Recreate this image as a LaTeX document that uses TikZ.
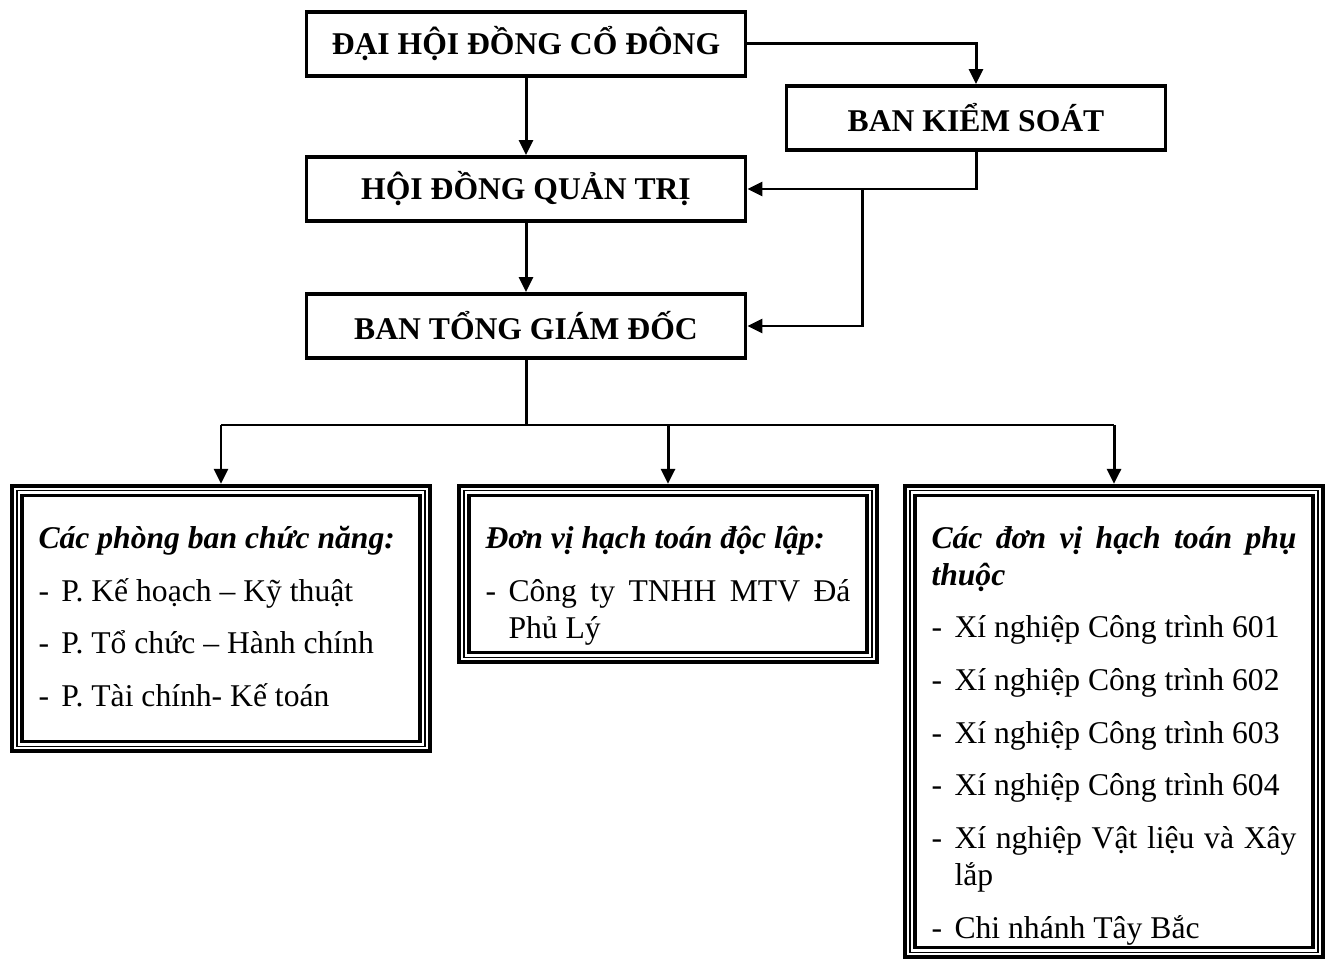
\documentclass[tikz,border=0pt]{standalone}
\usepackage{fontspec}
\setmainfont{Liberation Serif}
\usetikzlibrary{arrows.meta}

\newcommand{\muc}[1]{\par\vspace{9pt}\hangindent=0.46cm\hangafter=1\noindent\makebox[0.46cm][l]{-}#1\par}
\newcommand{\tieude}[1]{\noindent\textbf{\textit{#1}}\par}
\newcommand{\khung}[2]{\begin{minipage}[t][#1][t]{7.3cm}\fontsize{18}{21}\selectfont\vspace*{2pt}#2\end{minipage}}

\tikzset{
  capbox/.style={draw,line width=2.2pt,minimum height=1.28cm,font=\fontsize{18}{21}\selectfont\bfseries},
  donvibox/.style={draw,line width=0.8pt,preaction={draw,line width=7.6pt},preaction={draw,white,line width=3.6pt},
    anchor=north,inner xsep=0.43cm,inner ysep=0.64cm},
  muiten/.style={line width=1.7pt,-{Triangle[length=0.3cm,width=0.28cm]}},
  duong/.style={line width=1.7pt}
}

\begin{document}
\begin{tikzpicture}
\useasboundingbox (0,0) rectangle (26.62,19.16);

%Cap lanh dao
\node (dhdcd) at (10.52,18.28) [capbox,minimum width=8.78cm] {ĐẠI HỘI ĐỒNG CỔ ĐÔNG};
\node (bks)   at (19.52,16.80) [capbox,minimum width=7.58cm] {BAN KIỂM SOÁT};
\node (hdqt)  at (10.52,15.38) [capbox,minimum width=8.78cm] {HỘI ĐỒNG QUẢN TRỊ};
\node (btgd)  at (10.52,12.64) [capbox,minimum width=8.78cm] {BAN TỔNG GIÁM ĐỐC};

\draw[muiten] (dhdcd) -- (hdqt);
\draw[muiten] (hdqt) -- (btgd);
\draw[muiten] (dhdcd.east) -| (bks.north);
\draw[muiten] (bks.south) |- (hdqt.east);
\coordinate (nhanh) at (17.24,15.38);
\draw[muiten] (nhanh) |- (btgd.east);

%Don vi
\node (phong) at (4.42,9.36) [donvibox] {\khung{3.83cm}{\tieude{Các phòng ban chức năng:}
  \muc{P. Kế hoạch – Kỹ thuật}
  \muc{P. Tổ chức – Hành chính}
  \muc{P. Tài chính- Kế toán}}};
\node (doclap) at (13.36,9.36) [donvibox] {\khung{2.05cm}{\tieude{Đơn vị hạch toán độc lập:}
  \muc{Công ty TNHH MTV Đá Phủ Lý}}};
\node (phuthuoc) at (22.28,9.36) [donvibox] {\khung{7.95cm}{\tieude{Các đơn vị hạch toán phụ thuộc}
  \muc{Xí nghiệp Công trình 601}
  \muc{Xí nghiệp Công trình 602}
  \muc{Xí nghiệp Công trình 603}
  \muc{Xí nghiệp Công trình 604}
  \muc{Xí nghiệp Vật liệu và Xây lắp}
  \muc{Chi nhánh Tây Bắc}}};

%from BTGD to don vi
\coordinate (bus) at (10.52,10.66);
\draw[duong] (btgd) -- (bus);
\draw[duong] (bus -| phong.north) -- (bus -| phuthuoc.north);
\draw[muiten,shorten >=3.5pt] (bus -| phong.north) -- (phong.north);
\draw[muiten,shorten >=3.5pt] (bus -| doclap.north) -- (doclap.north);
\draw[muiten,shorten >=3.5pt] (bus -| phuthuoc.north) -- (phuthuoc.north);

\end{tikzpicture}
\end{document}
